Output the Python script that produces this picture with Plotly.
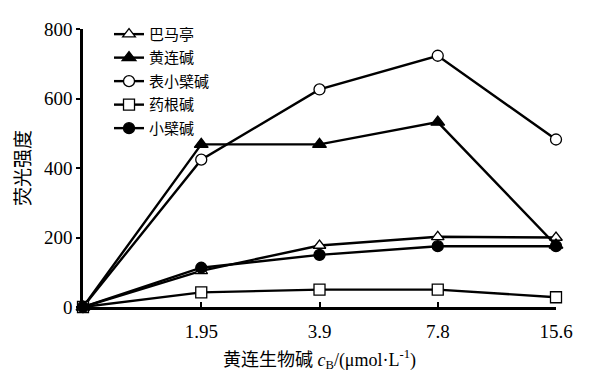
import plotly.graph_objects as go

x_labels = ["0", "1.95", "3.9", "7.8", "15.6"]
series_names = ["巴马亭", "黄连碱", "表小檗碱", "药根碱", "小檗碱"]
palmatine = [0, 104, 177, 202, 200]
coptisine = [0, 468, 468, 532, 178]
epiberberine = [0, 424, 626, 723, 482]
jatrorrhizine = [0, 42, 50, 50, 28]
berberine = [0, 113, 150, 175, 175]

symbols = ["triangle-up-open", "triangle-up", "circle-open", "square-open", "circle"]
all_values = [palmatine, coptisine, epiberberine, jatrorrhizine, berberine]
sizes = [11, 12, 11, 11, 11]

xpos = list(range(len(x_labels)))

fig = go.Figure()
for i, (name, vals, sym, sz) in enumerate(zip(series_names, all_values, symbols, sizes)):
    fill = "white" if "open" in sym else "black"
    fig.add_trace(go.Scatter(
        x=xpos, y=vals, name=name, mode="lines+markers", legendgroup=f"g{i}",
        line=dict(color="black", width=2.4),
        marker=dict(symbol=sym.replace("-open", ""), size=sz, color=fill,
                    line=dict(color="black", width=1.3)),
        cliponaxis=False,
    ))

serif = "Liberation Serif, Noto Sans CJK SC, serif"
fig.update_layout(
    width=600, height=391,
    margin=dict(l=75, r=52, t=10, b=92),
    plot_bgcolor="white", paper_bgcolor="white",
    font=dict(family=serif, size=19, color="black"),
    showlegend=True,
    legend=dict(x=0.055, y=1.04, xanchor="left", yanchor="top",
                bgcolor="rgba(0,0,0,0)", font=dict(size=15, family="Noto Sans CJK SC", color="black"),
                tracegroupgap=1, itemwidth=30),
    xaxis=dict(
        range=[0, 4], tickmode="array", tickvals=xpos[1:], ticktext=x_labels[1:],
        showline=True, linecolor="black", linewidth=2.5, showgrid=False, zeroline=False,
        ticks="inside", ticklen=5, tickwidth=2, tickcolor="black", automargin=False,
        ticklabelstandoff=5,
        title=dict(text="黄连生物碱 <i>c</i><sub>B</sub>/(μmol·L<sup>-1</sup>)",
                   font=dict(size=18, color="black"), standoff=13),
    ),
    yaxis=dict(
        range=[0, 800], tickvals=[0, 200, 400, 600, 800],
        showline=True, linecolor="black", linewidth=2.5, showgrid=False, zeroline=False,
        ticks="outside", ticklen=4, tickwidth=2, tickcolor="black", automargin=False,
        title=dict(text="荧光强度", font=dict(size=19, family="Noto Sans CJK SC", color="black"), standoff=18),
    ),
)

fig.write_html("out.html")
